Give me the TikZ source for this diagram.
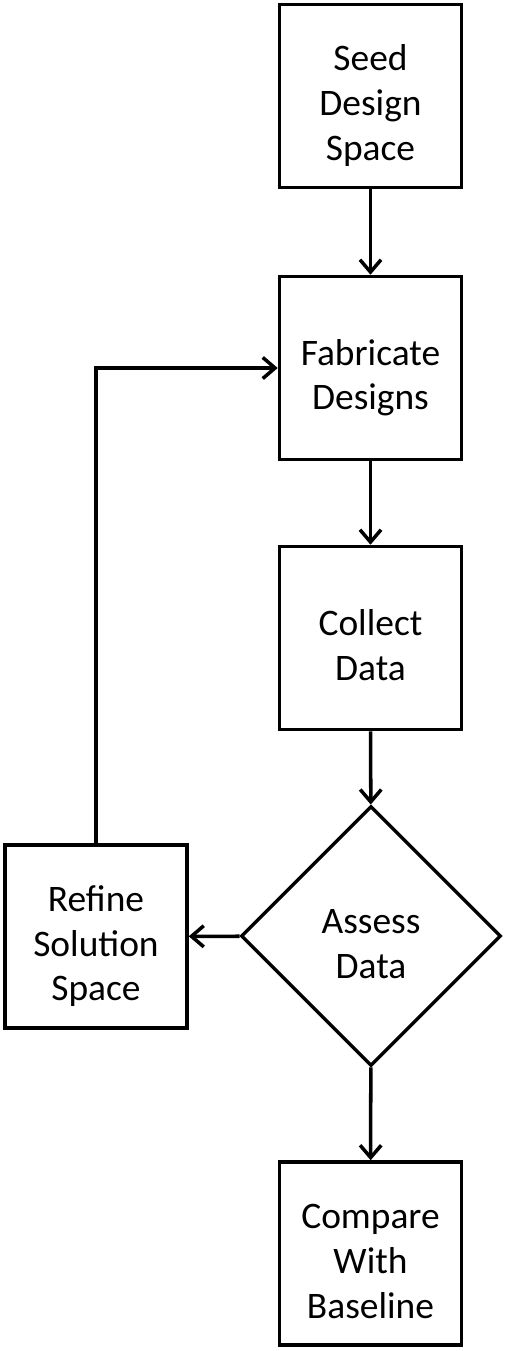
\documentclass[tikz,border=0pt]{standalone}
\usepackage{fontspec}
\setmainfont{Carlito}
\usepackage{tikz}
\usetikzlibrary{shapes.geometric, arrows.meta, positioning}
\definecolor{linecolor}{RGB}{0,0,0}
\newcommand{\topgap}{\rule{0pt}{0.78cm}}
\tikzset{
  stepbox/.style={draw=linecolor, line width=2pt, minimum width=3.64cm, minimum height=3.66cm,
    inner sep=0pt, align=center, text depth=0pt, font=\fontsize{21.3}{25.6}\selectfont},
  decision/.style={diamond, draw=linecolor, line width=1.9pt, minimum width=5.2cm, minimum height=5.2cm,
    aspect=1, inner sep=0pt, align=center, text depth=0pt, font=\fontsize{21.3}{25.6}\selectfont},
  flow/.style={draw=linecolor, line width=2pt, -{Straight Barb[length=7pt,width=12pt]}}
}
\begin{document}
\begin{tikzpicture}
    \useasboundingbox (0,0) rectangle (10.1,-27.02);
    % Process steps
    \node[stepbox] (seed) at (7.41,-1.92) {\topgap Seed\\Design\\Space};
    \node[stepbox] (fabricate) at (7.41,-7.36) {\topgap Fabricate\\Designs};
    \node[stepbox] (collect) at (7.41,-12.76) {\topgap Collect\\Data};
    \node[decision] (assess) at (7.42,-18.72) {\topgap Assess\\Data};
    \node[stepbox] (refine) at (1.92,-18.73) {\topgap Refine\\Solution\\Space};
    \node[stepbox] (compare) at (7.41,-25.07) {\topgap Compare\\With\\Baseline};
    % Connectors
    \draw[flow] (seed) -- (fabricate);
    \draw[flow] (fabricate) -- (collect);
    \draw[flow] (collect) -- (assess);
    \draw[flow] (assess) -- (refine);
    \draw[flow] (assess) -- (compare);
    \draw[flow] (refine.north) |- (fabricate.west);
\end{tikzpicture}
\end{document}
